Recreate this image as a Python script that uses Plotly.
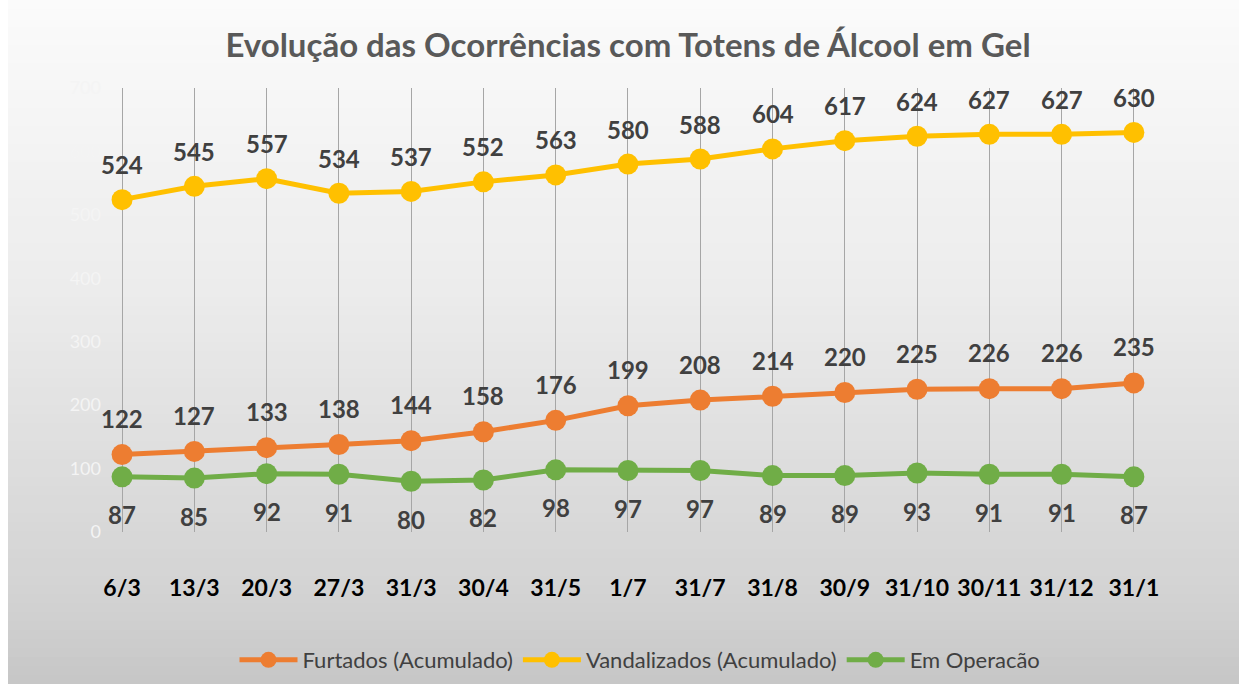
import plotly.graph_objects as go

categories = ["6/3", "13/3", "20/3", "27/3", "31/3", "30/4", "31/5", "1/7", "31/7",
              "31/8", "30/9", "31/10", "30/11", "31/12", "31/1"]
furtados = [122, 127, 133, 138, 144, 158, 176, 199, 208, 214, 220, 225, 226, 226, 235]
vandalizados = [524, 545, 557, 534, 537, 552, 563, 580, 588, 604, 617, 624, 627, 627, 630]
em_operacao = [87, 85, 92, 91, 80, 82, 98, 97, 97, 89, 89, 93, 91, 91, 87]
y_ticks = [0, 100, 200, 300, 400, 500, 600, 700]

W, H = 1239, 684
L, R, T, B = 104, 69, 88, 152
pw, ph = W - L - R, H - T - B

FONT = "Lato, 'Open Sans', sans-serif"
LABEL_FONT = dict(family=FONT, size=24, color="#404040", weight="bold")

# background gradient (styling): stops as (fraction from top, grey level)
stops = [(0.0, 251), (0.42, 236), (0.88, 210), (1.0, 198)]

def grey_at(f):
    for (f0, g0), (f1, g1) in zip(stops, stops[1:]):
        if f <= f1:
            return g0 + (g1 - g0) * (f - f0) / (f1 - f0)
    return stops[-1][1]

shapes = []
N = 76
for i in range(N):
    y0 = H * i / N
    y1 = H * (i + 1) / N + 1
    g = int(round(grey_at((i + 0.5) / N)))
    shapes.append(dict(type="rect", xref="paper", yref="paper", layer="below",
                       x0=-(L + 2) / pw, x1=(pw + R + 2) / pw,
                       y0=1 - (y1 - T) / ph, y1=1 - (y0 - T) / ph,
                       line=dict(width=0), fillcolor=f"rgb({g},{g},{g})"))
shapes.append(dict(type="rect", xref="paper", yref="paper", layer="below",
                   x0=-(L + 2) / pw, x1=-(L - 8) / pw, y0=-(B + 2) / ph, y1=1 + (T + 2) / ph,
                   line=dict(width=0), fillcolor="#ffffff"))

fig = go.Figure()

series = [
    ("Furtados (Acumulado)", furtados, "#ED7D31", 36),
    ("Vandalizados (Acumulado)", vandalizados, "#FFC000", 35),
    ("Em Operacão", em_operacao, "#70AD47", -38),
]

annotations = []
for name, vals, color, shift in series:
    fig.add_trace(go.Scatter(
        x=categories, y=vals, name=name, mode="lines+markers",
        line=dict(color=color, width=5),
        marker=dict(color=color, size=21),
        hoverinfo="skip", cliponaxis=False,
    ))
    for c, v in zip(categories, vals):
        annotations.append(dict(x=c, y=v, xref="x", yref="y", text=str(v),
                                showarrow=False, yshift=shift, xanchor="center",
                                yanchor="middle", font=LABEL_FONT))

fig.update_layout(
    width=W, height=H,
    margin=dict(l=L, r=R, t=T, b=B, pad=0, autoexpand=False),
    paper_bgcolor="#c6c6c6", plot_bgcolor="rgba(0,0,0,0)",
    shapes=shapes,
    annotations=annotations,
    title=dict(text="Evolução das Ocorrências com Totens de Álcool em Gel",
               x=628 / W, xref="container", xanchor="center", y=1 - 45 / H,
               yref="container", yanchor="middle",
               font=dict(family=FONT, size=33, color="#595959", weight="bold")),
    legend=dict(orientation="h", x=640 / W, xref="container", xanchor="center",
                y=1 - 660 / H, yref="container", yanchor="middle",
                font=dict(family=FONT, size=22, color="#404040"),
                bgcolor="rgba(0,0,0,0)", itemwidth=58, tracegroupgap=0),
    xaxis=dict(type="category", range=[-0.25, 14.5], showgrid=True,
               gridcolor="#a6a6a6", gridwidth=1, showline=False, zeroline=False,
               ticks="", ticklabelstandoff=40, automargin=False,
               tickfont=dict(family=FONT, size=23, color="#000000", weight="bold")),
    yaxis=dict(range=[0, 700], tickvals=y_ticks, showgrid=False, zeroline=False,
               showline=False, ticklabelposition="outside", ticklabelstandoff=2,
               automargin=False,
               tickfont=dict(family=FONT, size=18, color="#f4f4f4")),
    showlegend=True,
)

fig.write_html("out.html", post_script="document.body.style.margin='0';")
